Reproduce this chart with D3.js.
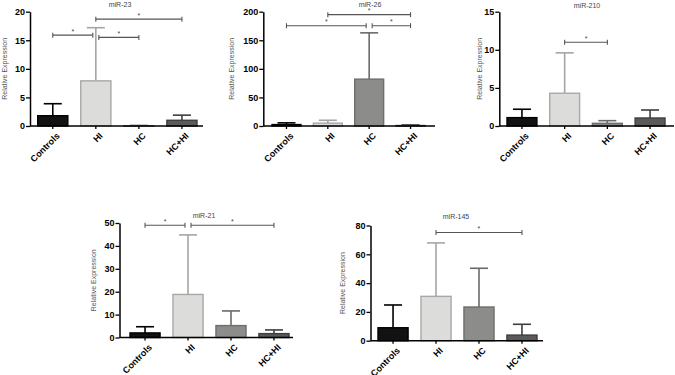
<!DOCTYPE html>
<html>
<head>
<meta charset="utf-8">
<script src="https://cdn.jsdelivr.net/npm/d3@7"></script>
<style>
  body { margin: 0; background: #fff; }
  svg { display: block; font-family: "Liberation Sans", Arial, sans-serif; }
</style>
</head>
<body>
<div id="chart"></div>
<script>
// group names on every x axis
const groups = ["Controls", "HI", "HC", "HC+HI"];

// mean and upper end of the error bar (mean + SD)
const mir23Mean = [1.8, 7.9, 0.05, 1.0];
const mir23Upper = [3.9, 17.2, 0.1, 1.9];
const mir26Mean = [2.5, 5, 82, 0.8];
const mir26Upper = [5.5, 10, 163, 1.8];
const mir210Mean = [1.1, 4.3, 0.35, 1.05];
const mir210Upper = [2.2, 9.6, 0.7, 2.1];
const mir21Mean = [2.0, 18.8, 5.2, 1.7];
const mir21Upper = [4.7, 44.8, 11.6, 3.3];
const mir145Mean = [9.0, 30.8, 23.4, 3.9];
const mir145Upper = [24.8, 67.9, 50.3, 11.4];

// y tick labels
const ticks23 = [0, 5, 10, 15, 20];
const ticks26 = [0, 50, 100, 150, 200];
const ticks210 = [0, 5, 10, 15];
const ticks21 = [0, 10, 20, 30, 40, 50];
const ticks145 = [0, 20, 40, 60, 80];

// significance brackets: [from, to, height in data units]
const sig23 = [["Controls", "HI", 15.9], ["HI", "HC", 15.5], ["HI", "HC+HI", 18.7]];
const sig26 = [["HI", "HC+HI", 194.8], ["Controls", "HC", 175.5], ["HC", "HC+HI", 175.5]];
const sig210 = [["HI", "HC", 11.0]];
const sig21 = [["Controls", "HI", 49], ["HI", "HC+HI", 49]];
const sig145 = [["HI", "HC+HI", 75.1]];

const fills = ["#121212", "#dcdcda", "#8c8c8a", "#5a5a5a"];
const strokes = ["#000", "#a8a8a8", "#6e6e6e", "#3e3e3e"];
const errColors = ["#000", "#a5a5a5", "#6a6a6a", "#3e3e3e"];

const svg = d3.select("#chart").append("svg")
  .attr("width", 675)
  .attr("height", 375);

function drawPanel(p) {
  const g = svg.append("g");

  const x = d3.scaleBand()
    .domain(groups)
    .range([p.barStart, p.barEnd])
    .paddingInner(0.3)
    .paddingOuter(0);

  const y = d3.scaleLinear()
    .domain([0, p.max])
    .range([p.bottom, p.top]);

  const rows = groups.map((k, i) => ({ k: k, i: i, mean: p.mean[i], upper: p.upper[i] }));

  // error bars (upper half only)
  g.selectAll(".err")
    .data(rows)
    .join("line")
      .attr("x1", d => x(d.k) + x.bandwidth() / 2)
      .attr("x2", d => x(d.k) + x.bandwidth() / 2)
      .attr("y1", d => y(d.mean))
      .attr("y2", d => y(d.upper))
      .style("stroke", d => errColors[d.i])
      .style("stroke-width", 1.6);
  g.selectAll(".cap")
    .data(rows)
    .join("line")
      .attr("x1", d => x(d.k) + x.bandwidth() / 2 - 9)
      .attr("x2", d => x(d.k) + x.bandwidth() / 2 + 9)
      .attr("y1", d => y(d.upper))
      .attr("y2", d => y(d.upper))
      .style("stroke", d => errColors[d.i])
      .style("stroke-width", 1.6);

  // bars
  g.selectAll(".bar")
    .data(rows)
    .join("rect")
      .attr("x", d => x(d.k))
      .attr("y", d => y(d.mean))
      .attr("width", x.bandwidth())
      .attr("height", d => Math.max(0.5, y(0) - y(d.mean)))
      .style("fill", d => fills[d.i])
      .style("stroke", d => strokes[d.i])
      .style("stroke-width", 1.4);

  // y axis
  const ya = g.append("g")
    .attr("transform", `translate(${p.axisX}, 0)`)
    .call(d3.axisLeft(y).tickValues(p.ticks).tickSize(4).tickPadding(1).tickSizeOuter(0));
  ya.select(".domain").style("stroke", "#000").style("stroke-width", 1.5);
  ya.selectAll(".tick line").style("stroke", "#000").style("stroke-width", 1.3);
  ya.selectAll(".tick text")
    .style("font-size", "9px")
    .style("font-weight", "bold")
    .style("fill", "#000");

  // x axis
  g.append("line")
    .attr("x1", p.axisX)
    .attr("x2", p.axisEnd)
    .attr("y1", p.bottom)
    .attr("y2", p.bottom)
    .style("stroke", "#000")
    .style("stroke-width", 1.5);
  const xa = g.append("g")
    .attr("transform", `translate(0, ${p.bottom})`)
    .call(d3.axisBottom(x).tickSize(3).tickFormat(""));
  xa.select(".domain").remove();
  xa.selectAll(".tick line").style("stroke", "#000").style("stroke-width", 1.3);

  g.selectAll(".xlab")
    .data(groups)
    .join("text")
      .attr("transform", d => `translate(${x(d) + x.bandwidth() / 2 + 3}, ${p.bottom + 6}) rotate(-45)`)
      .attr("text-anchor", "end")
      .attr("dy", "0.7em")
      .style("font-size", "9px")
      .style("font-weight", "bold")
      .text(d => d);

  // y label
  g.append("text")
    .attr("transform", `translate(${p.labelX}, ${(p.top + p.bottom) / 2}) rotate(-90)`)
    .attr("text-anchor", "middle")
    .attr("dy", "0.35em")
    .style("font-size", "7px")
    .style("fill", "#555")
    .text("Relative Expression");

  // title
  g.append("text")
    .attr("x", p.titleX)
    .attr("y", p.titleY)
    .attr("text-anchor", "middle")
    .style("font-size", "7px")
    .style("fill", "#444")
    .text(p.title);

  // significance brackets
  p.sig.forEach(function(s, j) {
    let x1 = x(s[0]) + x.bandwidth() / 2;
    let x2 = x(s[1]) + x.bandwidth() / 2;
    const yy = y(s[2]);
    // pull back ends that meet another bracket at about the same height
    p.sig.forEach(function(o, m) {
      if (m === j || Math.abs(y(o[2]) - yy) > 6) return;
      if (o[1] === s[0]) x1 += 3;
      if (o[0] === s[1]) x2 -= 3;
    });
    const b = g.append("g").style("stroke", "#555").style("stroke-width", 1.1);
    b.append("line").attr("x1", x1).attr("x2", x2).attr("y1", yy).attr("y2", yy);
    b.append("line").attr("x1", x1).attr("x2", x1).attr("y1", yy - 2.5).attr("y2", yy + 2.5);
    b.append("line").attr("x1", x2).attr("x2", x2).attr("y1", yy - 2.5).attr("y2", yy + 2.5);
    g.append("text")
      .attr("x", (x1 + x2) / 2)
      .attr("y", yy - 1.5)
      .attr("text-anchor", "middle")
      .style("font-size", "7px")
      .style("fill", "#444")
      .text("*");
  });
}

drawPanel({ title: "miR-23", mean: mir23Mean, upper: mir23Upper, ticks: ticks23, sig: sig23, max: 20,
  axisX: 30, axisEnd: 203, barStart: 37.7, barEnd: 197, top: 11.7, bottom: 126, labelX: 5, titleX: 120, titleY: 7 });
drawPanel({ title: "miR-26", mean: mir26Mean, upper: mir26Upper, ticks: ticks26, sig: sig26, max: 200,
  axisX: 263.3, axisEnd: 435, barStart: 272, barEnd: 425, top: 11.7, bottom: 126, labelX: 232, titleX: 370, titleY: 7 });
drawPanel({ title: "miR-210", mean: mir210Mean, upper: mir210Upper, ticks: ticks210, sig: sig210, max: 15,
  axisX: 499.3, axisEnd: 674, barStart: 507, barEnd: 665, top: 11.7, bottom: 126, labelX: 480, titleX: 587, titleY: 8 });
drawPanel({ title: "miR-21", mean: mir21Mean, upper: mir21Upper, ticks: ticks21, sig: sig21, max: 50,
  axisX: 119.5, axisEnd: 293, barStart: 130, barEnd: 289, top: 223, bottom: 337.5, labelX: 94, titleX: 204, titleY: 218 });
drawPanel({ title: "miR-145", mean: mir145Mean, upper: mir145Upper, ticks: ticks145, sig: sig145, max: 80,
  axisX: 370.5, axisEnd: 543, barStart: 378, barEnd: 537, top: 225.5, bottom: 340.7, labelX: 343, titleX: 456, titleY: 219 });
</script>
</body>
</html>
